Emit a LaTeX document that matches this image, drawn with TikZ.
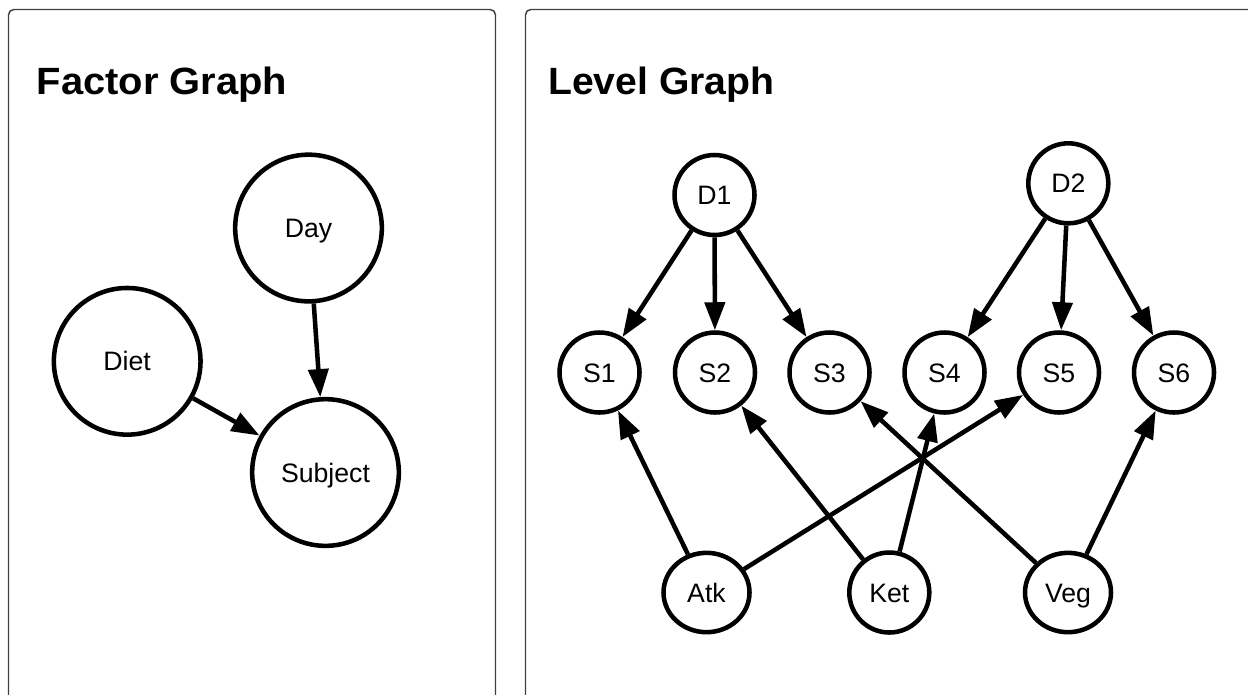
\documentclass[tikz,border=0pt]{standalone}
\usepackage{fontspec}
\setmainfont{Liberation Sans}
\usetikzlibrary{arrows.meta,shapes.geometric}
\begin{document}
\begin{tikzpicture}[x=0.75pt,y=-0.75pt,
  panel/.style={draw=black!75, line width=1.1pt, rounded corners=4pt},
  title/.style={anchor=base west, inner sep=0pt, font=\fontsize{28.5pt}{34pt}\selectfont\bfseries},
  var/.style={circle, draw, line width=3.4pt, inner sep=0pt, minimum size=60pt, font=\fontsize{20pt}{24pt}\selectfont, text height=14.3pt, text depth=0pt},
  bigvar/.style={var, minimum size=110pt},
  widevar/.style={var, ellipse, minimum width=64.5pt, minimum height=59.5pt},
  edge/.style={line width=3.4pt, -{Triangle[length=21pt,width=15pt]}},
]
\useasboundingbox (0,0) rectangle (1248,694);
\clip (0,0) rectangle (1248,694);
\fill[white] (0,0) rectangle (1248,694);

% panels
\draw[panel] (8.5,9.5) rectangle (495.5,730);
\draw[panel] (525.5,9.5) rectangle (1280,730);

% titles
\node[title] (t1) at (36.5,94) {\scalebox{1.05}[1]{Factor Graph}};
\node[title] (t2) at (548,94) {\scalebox{1.03}[1]{Level Graph}};

% factor graph
\node[bigvar] (day) at (308.5,228) {Day};
\node[bigvar] (diet) at (127.2,361.3) {Diet};
\node[bigvar] (subj) at (325.5,472.5) {Subject};
\draw[edge] (day) -- (subj);
\draw[edge] (diet) -- (subj);

% level graph
\node[var] (d1) at (714.5,195) {D1};
\node[var] (d2) at (1068.3,183.3) {D2};
\node[var] (s1) at (599.5,372.5) {S1};
\node[var] (s2) at (715,372.5) {S2};
\node[var] (s3) at (829.5,372.5) {S3};
\node[var] (s4) at (944.5,372.5) {S4};
\node[var] (s5) at (1059,372.5) {S5};
\node[var] (s6) at (1174,372.5) {S6};
\node[widevar] (atk) at (706.5,592.5) {Atk};
\node[var] (ket) at (889.3,592.5) {Ket};
\node[widevar] (veg) at (1068,592.5) {Veg};

\draw[edge] (d1) -- (s1);
\draw[edge] (d1) -- (s2);
\draw[edge] (d1) -- (s3);
\draw[edge] (d2) -- (s4);
\draw[edge] (d2) -- (s5);
\draw[edge] (d2) -- (s6);
\draw[edge] (atk) -- (s1);
\draw[edge] (atk) -- (s5);
\draw[edge] (ket) -- (s2);
\draw[edge] (ket) -- (s4);
\draw[edge] (veg) -- (s3);
\draw[edge] (veg) -- (s6);
\end{tikzpicture}
\end{document}
